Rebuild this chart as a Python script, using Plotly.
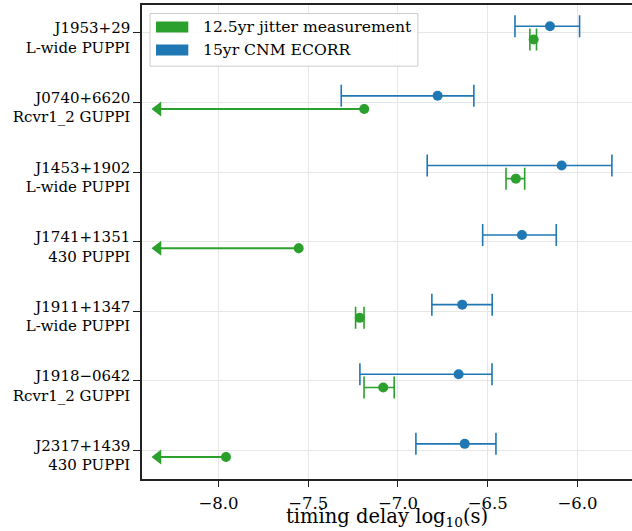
import plotly.graph_objects as go

# ---- data (log10 seconds) ----
pulsars = ["J1953+29<br>L-wide PUPPI", "J0740+6620<br>Rcvr1_2 GUPPI", "J1453+1902<br>L-wide PUPPI",
           "J1741+1351<br>430 PUPPI", "J1911+1347<br>L-wide PUPPI", "J1918\u22120642<br>Rcvr1_2 GUPPI",
           "J2317+1439<br>430 PUPPI"]
row_index = [0, 1, 2, 3, 4, 5, 6]

ecorr_val = [-6.153, -6.779, -6.088, -6.309, -6.642, -6.662, -6.628]
ecorr_lo = [-6.348, -7.316, -6.837, -6.528, -6.811, -7.212, -6.900]
ecorr_hi = [-5.988, -6.577, -5.808, -6.118, -6.475, -6.476, -6.454]

# jitter measurements (None bounds => upper limit)
jit_val = [-6.244, -7.188, -6.343, -7.553, -7.213, -7.082, -7.958]
jit_lo = [-6.265, None, -6.398, None, -7.236, -7.189, None]
jit_hi = [-6.228, None, -6.294, None, -7.189, -7.021, None]
ul_arrow_to = -8.337

x_ticks = [-8.0, -7.5, -7.0, -6.5, -6.0]
x_ticklabels = ["\u22128.0", "\u22127.5", "\u22127.0", "\u22126.5", "\u22126.0"]
x_title = "timing delay log<sub>10</sub>(s)"

legend_labels = ["12.5yr jitter measurement", "15yr CNM ECORR"]

GREEN = "#2ca02c"
BLUE = "#1f77b4"
FONT = "DejaVu Serif"
off = 0.095

fig = go.Figure()

ul = [i for i in row_index if jit_lo[i] is None]
meas = [i for i in row_index if jit_lo[i] is not None]

# upper-limit arrows (lines)
for i in ul:
    fig.add_trace(go.Scatter(
        x=[jit_val[i], ul_arrow_to], y=[i + off, i + off], mode="lines",
        line=dict(color=GREEN, width=2), showlegend=False, hoverinfo="skip"))
fig.add_trace(go.Scatter(
    x=[ul_arrow_to] * len(ul), y=[i + off for i in ul], mode="markers",
    marker=dict(color=GREEN, symbol="triangle-left", size=13, line=dict(width=0)),
    showlegend=False))

# ECORR
fig.add_trace(go.Scatter(
    x=ecorr_val, y=[r - off for r in row_index], mode="markers",
    marker=dict(color=BLUE, size=10, line=dict(width=0)),
    error_x=dict(type="data", symmetric=False,
                 array=[h - v for h, v in zip(ecorr_hi, ecorr_val)],
                 arrayminus=[v - l for l, v in zip(ecorr_lo, ecorr_val)],
                 color=BLUE, thickness=1.6, width=11),
    showlegend=False))

# jitter measurements with errors
fig.add_trace(go.Scatter(
    x=[jit_val[i] for i in meas], y=[i + off for i in meas], mode="markers",
    marker=dict(color=GREEN, size=10, line=dict(width=0)),
    error_x=dict(type="data", symmetric=False,
                 array=[jit_hi[i] - jit_val[i] for i in meas],
                 arrayminus=[jit_val[i] - jit_lo[i] for i in meas],
                 color=GREEN, thickness=1.6, width=11),
    showlegend=False))

# upper-limit points
fig.add_trace(go.Scatter(
    x=[jit_val[i] for i in ul], y=[i + off for i in ul], mode="markers",
    marker=dict(color=GREEN, size=10, line=dict(width=0)),
    error_x=dict(type="data", array=[0] * len(ul), color=GREEN, thickness=1.6, width=5),
    showlegend=False))

# manual legend (matplotlib-style patches)
shapes = [dict(type="rect", xref="x domain", yref="y domain", x0=0.0163, x1=0.563, y0=0.871, y1=0.982,
               line=dict(color="#cccccc", width=1), fillcolor="rgba(255,255,255,0.85)", layer="above")]
annotations = []
for k, (lab, col) in enumerate(zip(legend_labels, [GREEN, BLUE])):
    yc = 0.9536 - k * 0.0486
    shapes.append(dict(type="rect", xref="x domain", yref="y domain", x0=0.0286, x1=0.0945,
                       y0=yc - 0.0118, y1=yc + 0.0118, line=dict(width=0), fillcolor=col, layer="above"))
    annotations.append(dict(xref="x domain", yref="y domain", x=0.121, y=yc, text=lab, showarrow=False,
                            xanchor="left", yanchor="middle", font=dict(family=FONT, size=15.6, color="black")))

# x-axis title placed as annotation (matplotlib sits it lower than plotly allows)
annotations.append(dict(xref="x domain", yref="y domain", x=0.5, y=-0.0815, text=x_title, showarrow=False,
                        xanchor="center", yanchor="middle", font=dict(family=FONT, size=19.5, color="black")))

fig.update_layout(
    width=632, height=531,
    margin=dict(l=142, r=0, t=5, b=52),
    paper_bgcolor="white", plot_bgcolor="white",
    font=dict(family=FONT, size=15, color="black"),
    shapes=shapes, annotations=annotations,
    xaxis=dict(range=[-8.426, -5.696], tickvals=x_ticks, ticktext=x_ticklabels,
               tickfont=dict(size=16.5), ticklabelstandoff=2,
               showgrid=True, gridcolor="#e6e6e6", gridwidth=1, zeroline=False,
               showline=True, linecolor="#222", linewidth=1.5, mirror=True,
               ticks="outside", ticklen=6, tickcolor="#222"),
    yaxis=dict(range=[6.41, -0.40], tickvals=row_index, ticktext=pulsars,
               ticklabelshift=-5,
               showgrid=True, gridcolor="#e6e6e6", gridwidth=1, zeroline=False,
               showline=True, linecolor="#222", linewidth=1.5,
               ticks="outside", ticklen=7, tickcolor="#222"),
)

fig.write_html("out.html")
